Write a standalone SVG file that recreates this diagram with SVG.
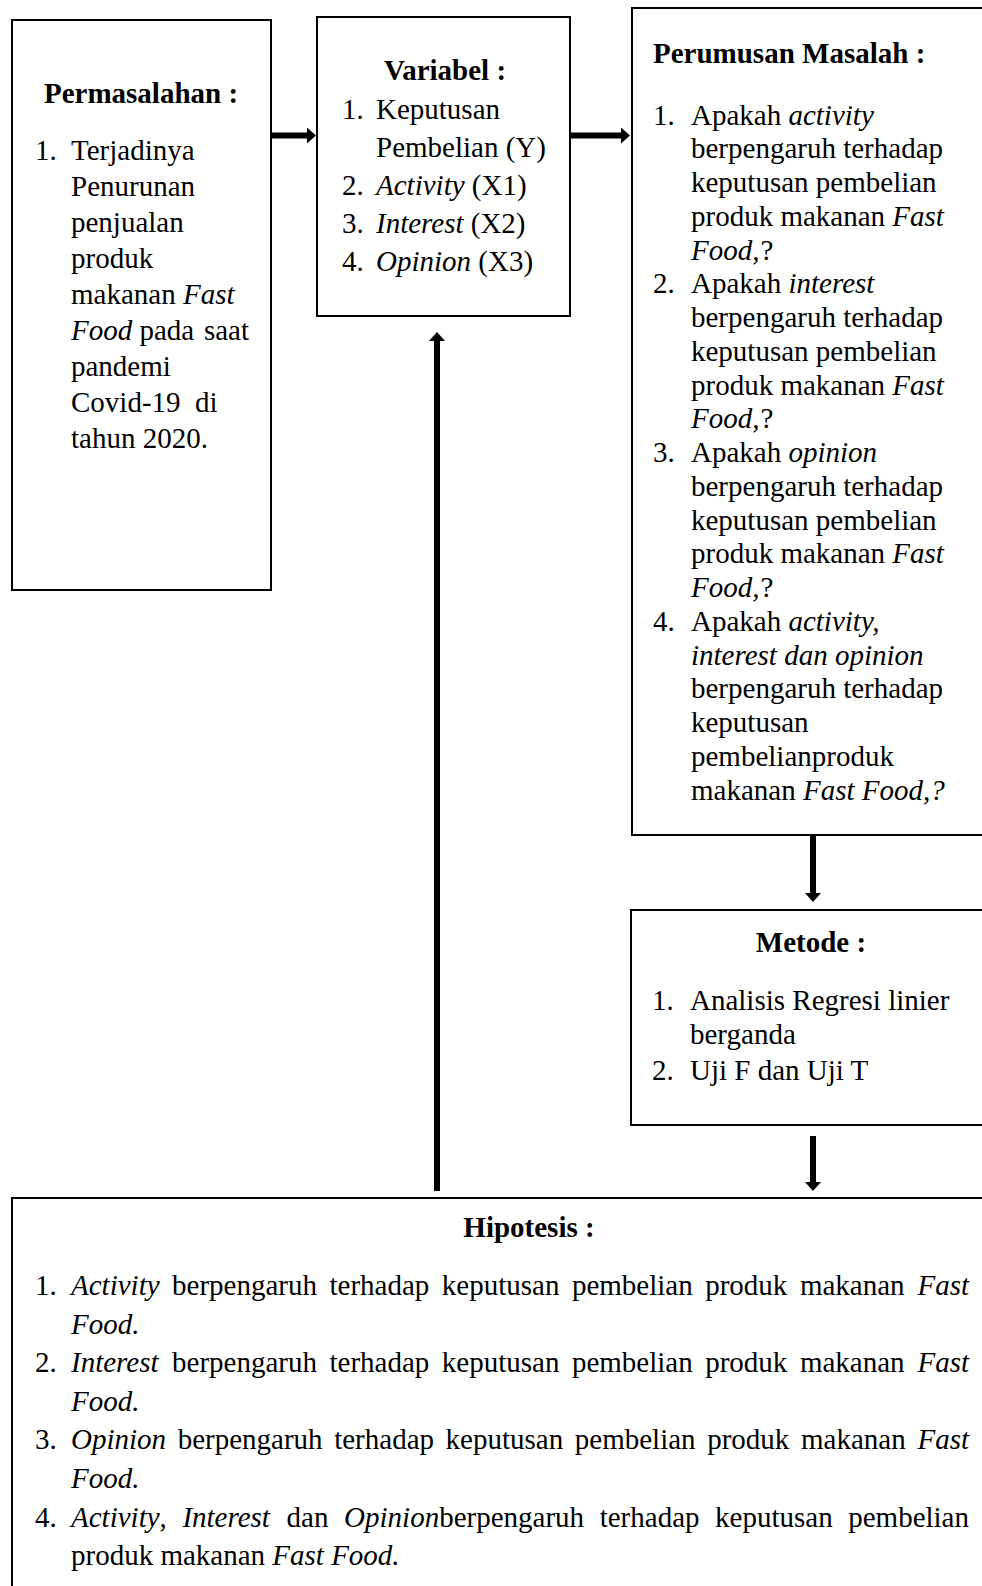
<svg xmlns="http://www.w3.org/2000/svg" width="982" height="1586" viewBox="0 0 982 1586">
<style>
.box{fill:#fff;stroke:#000;stroke-width:2}
.t{font-family:"Liberation Serif","Times New Roman",serif;font-size:29px;fill:#000}
.b{font-weight:bold}
.i{font-style:italic}
.c{text-anchor:middle}
.e{text-anchor:end}
.con{stroke:#000;stroke-width:6;fill:none}
</style>
<defs>
<marker id="ah" viewBox="0 0 9 16" markerWidth="9" markerHeight="16" refX="1" refY="8" orient="auto" markerUnits="userSpaceOnUse">
<path d="M0,0 L9,8 L0,16 Z" fill="#000"/>
</marker>
</defs>
<rect width="982" height="1586" fill="#fff"/>

<g id="connectors">
<line class="con" x1="270" y1="135.5" x2="308" y2="135.5" marker-end="url(#ah)"/>
<line class="con" x1="569" y1="135.5" x2="622" y2="135.5" marker-end="url(#ah)"/>
<line class="con" x1="437" y1="1191" x2="437" y2="340" marker-end="url(#ah)"/>
<line class="con" x1="813" y1="835" x2="813" y2="894" marker-end="url(#ah)"/>
<line class="con" x1="813" y1="1136" x2="813" y2="1183" marker-end="url(#ah)"/>
</g>

<g id="permasalahan">
<rect class="box" x="12" y="20" width="259" height="570"/>
<text class="t b c" x="141" y="103">Permasalahan :</text>
<text class="t" y="160"><tspan x="35">1.</tspan><tspan x="71">Terjadinya</tspan></text>
<text class="t" x="71" y="196">Penurunan</text>
<text class="t" x="71" y="232">penjualan</text>
<text class="t" x="71" y="268">produk</text>
<text class="t" x="71" y="304">makanan <tspan class="i">Fast</tspan></text>
<text class="t" y="340"><tspan x="71" class="i">Food</tspan> pada<tspan class="e" x="249">saat</tspan></text>
<text class="t" x="71" y="376">pandemi</text>
<text class="t" y="412"><tspan x="71">Covid-19</tspan><tspan x="195">di</tspan></text>
<text class="t" x="71" y="448">tahun 2020.</text>
</g>

<g id="variabel">
<rect class="box" x="317" y="17" width="253" height="299"/>
<text class="t b c" x="445" y="80">Variabel :</text>
<text class="t" y="119"><tspan x="342">1.</tspan><tspan x="376">Keputusan</tspan></text>
<text class="t" x="376" y="157">Pembelian (Y)</text>
<text class="t" y="194.5"><tspan x="342">2.</tspan><tspan x="376" class="i">Activity</tspan> (X1)</text>
<text class="t" y="232.5"><tspan x="342">3.</tspan><tspan x="376" class="i">Interest</tspan> (X2)</text>
<text class="t" y="271"><tspan x="342">4.</tspan><tspan x="376" class="i">Opinion</tspan> (X3)</text>
</g>

<g id="perumusan">
<rect class="box" x="632" y="8" width="360" height="827"/>
<text class="t b" x="653" y="63">Perumusan Masalah :</text>
<text class="t" y="124.5"><tspan x="653">1.</tspan><tspan x="691">Apakah </tspan><tspan class="i">activity</tspan></text>
<text class="t" x="691" y="158.25">berpengaruh terhadap</text>
<text class="t" x="691" y="192">keputusan pembelian</text>
<text class="t" x="691" y="225.75">produk makanan <tspan class="i">Fast</tspan></text>
<text class="t" x="691" y="259.5"><tspan class="i">Food,</tspan><tspan dx="1">?</tspan></text>
<text class="t" y="293.25"><tspan x="653">2.</tspan><tspan x="691">Apakah </tspan><tspan class="i">interest</tspan></text>
<text class="t" x="691" y="327">berpengaruh terhadap</text>
<text class="t" x="691" y="360.75">keputusan pembelian</text>
<text class="t" x="691" y="394.5">produk makanan <tspan class="i">Fast</tspan></text>
<text class="t" x="691" y="428.25"><tspan class="i">Food,</tspan><tspan dx="1">?</tspan></text>
<text class="t" y="462"><tspan x="653">3.</tspan><tspan x="691">Apakah </tspan><tspan class="i">opinion</tspan></text>
<text class="t" x="691" y="495.75">berpengaruh terhadap</text>
<text class="t" x="691" y="529.5">keputusan pembelian</text>
<text class="t" x="691" y="563.25">produk makanan <tspan class="i">Fast</tspan></text>
<text class="t" x="691" y="597"><tspan class="i">Food,</tspan><tspan dx="1">?</tspan></text>
<text class="t" y="630.75"><tspan x="653">4.</tspan><tspan x="691">Apakah </tspan><tspan class="i">activity,</tspan></text>
<text class="t i" x="691" y="664.5">interest dan opinion</text>
<text class="t" x="691" y="698.25">berpengaruh terhadap</text>
<text class="t" x="691" y="732">keputusan</text>
<text class="t" x="691" y="765.75">pembelianproduk</text>
<text class="t" x="691" y="799.5">makanan <tspan class="i">Fast Food,?</tspan></text>
</g>

<g id="metode">
<rect class="box" x="631" y="910" width="361" height="215"/>
<text class="t b c" x="811" y="952">Metode :</text>
<text class="t" y="1010"><tspan x="652">1.</tspan><tspan x="690">Analisis Regresi linier</tspan></text>
<text class="t" x="690" y="1044">berganda</text>
<text class="t" y="1080"><tspan x="652">2.</tspan><tspan x="690">Uji F dan Uji T</tspan></text>
</g>

<g id="hipotesis">
<rect class="box" x="12" y="1198" width="980" height="400"/>
<text class="t b c" x="529" y="1237">Hipotesis :</text>
<text class="t" y="1295"><tspan x="35">1.</tspan><tspan x="71" class="i">Activity</tspan><tspan x="172.1">berpengaruh</tspan><tspan x="329.5">terhadap</tspan><tspan x="441.8">keputusan</tspan><tspan x="571.9">pembelian</tspan><tspan x="705.2">produk</tspan><tspan x="799.9">makanan</tspan><tspan x="969" class="i e">Fast</tspan></text>
<text class="t i" x="71" y="1333.6">Food.</text>
<text class="t" y="1372.2"><tspan x="35">2.</tspan><tspan x="71" class="i">Interest</tspan><tspan x="172.1">berpengaruh</tspan><tspan x="329.5">terhadap</tspan><tspan x="441.8">keputusan</tspan><tspan x="571.9">pembelian</tspan><tspan x="705.2">produk</tspan><tspan x="799.9">makanan</tspan><tspan x="969" class="i e">Fast</tspan></text>
<text class="t i" x="71" y="1410.8">Food.</text>
<text class="t" y="1449.4"><tspan x="35">3.</tspan><tspan x="71" class="i">Opinion</tspan><tspan x="177.7">berpengaruh</tspan><tspan x="334.2">terhadap</tspan><tspan x="445.6">keputusan</tspan><tspan x="574.8">pembelian</tspan><tspan x="707.2">produk</tspan><tspan x="801">makanan</tspan><tspan x="969" class="i e">Fast</tspan></text>
<text class="t i" x="71" y="1488">Food.</text>
<text class="t" y="1526.6"><tspan x="35">4.</tspan><tspan x="71" class="i">Activity</tspan>,<tspan x="182.4" class="i">Interest</tspan><tspan x="286.6">dan</tspan><tspan x="344.1" class="i">Opinion</tspan>berpengaruh<tspan x="599.7">terhadap</tspan><tspan x="715.1">keputusan</tspan><tspan x="969" class="e">pembelian</tspan></text>
<text class="t" x="71" y="1565.2">produk makanan <tspan class="i">Fast Food.</tspan></text>
</g>
</svg>
